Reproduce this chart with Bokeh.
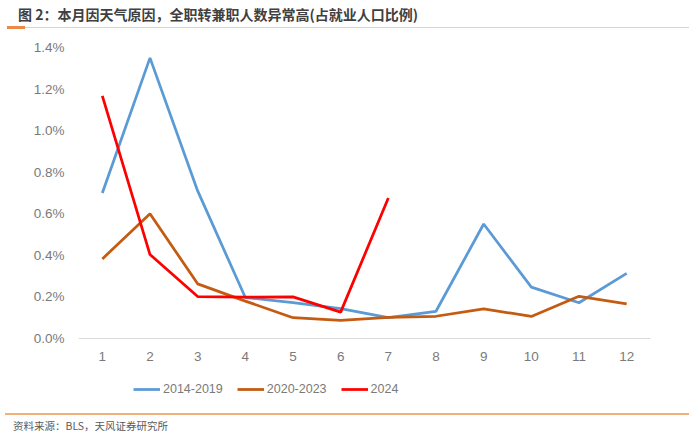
from bokeh.plotting import figure
from bokeh.models import (Legend, LegendItem, FixedTicker, PrintfTickFormatter,
                          Range1d, Div)
from bokeh.layouts import column
from bokeh.embed import file_html
from bokeh.resources import INLINE

months = [1, 2, 3, 4, 5, 6, 7, 8, 9, 10, 11, 12]
s_2014_2019 = [0.70, 1.35, 0.71, 0.197, 0.173, 0.144, 0.10, 0.131, 0.551, 0.247, 0.172, 0.313]
s_2020_2023 = [0.383, 0.60, 0.263, 0.18, 0.10, 0.087, 0.102, 0.107, 0.143, 0.106, 0.203, 0.167]
months_2024 = [1, 2, 3, 4, 5, 6, 7]
s_2024 = [1.167, 0.404, 0.202, 0.199, 0.20, 0.127, 0.676]
y_ticks = [0.0, 0.2, 0.4, 0.6, 0.8, 1.0, 1.2, 1.4]
series_names = ["2014-2019", "2020-2023", "2024"]
title_text = "图 2：本月因天气原因，全职转兼职人数异常高(占就业人口比例)"
source_text = "资料来源：BLS，天风证券研究所"

W = 696
TOP_H = 30
FIG_H = 383
BOT_H = 22

# plot area (0 .. 1.4) spans 291 px; frame extends 67 px below zero for labels/legend
px_per_unit = 291 / 1.4
y_low = -67 / px_per_unit

title_div = Div(width=W, height=TOP_H, margin=0, text=(
    '<div style="position:relative;width:%dpx;height:%dpx;">'
    '<div style="position:absolute;left:18px;top:5px;line-height:18px;white-space:nowrap;'
    'font-family:\'Noto Sans CJK SC\';font-weight:bold;font-size:14px;color:#404040;">%s</div>'
    '<div style="position:absolute;left:7px;top:26.5px;width:682px;height:1.5px;background:#F6CBA6;"></div>'
    '<div style="position:absolute;left:7px;top:26px;width:18px;height:2.5px;background:#EA8A45;"></div>'
    '</div>') % (W, TOP_H, title_text))

p = figure(width=W, height=FIG_H, output_backend="svg", toolbar_location=None,
           x_range=Range1d(0.5, 12.5), y_range=Range1d(y_low, 1.4),
           min_border_left=78, min_border_right=W - 650, min_border_top=17,
           min_border_bottom=8, margin=0)
p.outline_line_color = None
p.xgrid.grid_line_color = None
p.ygrid.grid_line_color = None

tick_font = "Liberation Sans"
p.xaxis.ticker = FixedTicker(ticks=months)
p.yaxis.ticker = FixedTicker(ticks=y_ticks)
p.yaxis.formatter = PrintfTickFormatter(format="%.1f%%")
for ax in (p.xaxis, p.yaxis):
    ax.major_tick_line_color = None
    ax.minor_tick_line_color = None
    ax.major_label_text_font = tick_font
    ax.major_label_text_font_size = "13.5px"
    ax.major_label_text_color = "#7A7A7A"
p.yaxis.axis_line_color = None
p.yaxis.major_label_standoff = 8
p.xaxis.fixed_location = 0
p.xaxis.axis_line_color = "#D9D9D9"
p.xaxis.axis_line_width = 1
p.xaxis.major_label_standoff = 7

r1 = p.line(months, s_2014_2019, line_color="#5B9BD5", line_width=2.75)
r2 = p.line(months, s_2020_2023, line_color="#C55A11", line_width=2.75)
r3 = p.line(months_2024, s_2024, line_color="#FF0000", line_width=2.75)

legend = Legend(items=[LegendItem(label=series_names[0], renderers=[r1]),
                       LegendItem(label=series_names[1], renderers=[r2]),
                       LegendItem(label=series_names[2], renderers=[r3])],
                orientation="horizontal", location=(55, 6),
                glyph_width=27, glyph_height=20, label_standoff=3, spacing=14,
                padding=0, margin=0, border_line_color=None, background_fill_alpha=0,
                label_text_font=tick_font, label_text_font_size="12.5px",
                label_text_color="#7A7A7A")
p.add_layout(legend, "center")

src_div = Div(width=W, height=BOT_H, margin=0, text=(
    '<div style="position:relative;width:%dpx;height:%dpx;">'
    '<div style="position:absolute;left:5px;top:0px;width:684px;height:1.5px;background:#F0B27A;"></div>'
    '<div style="position:absolute;left:13px;top:6px;line-height:14px;white-space:nowrap;'
    'font-family:\'Noto Sans CJK SC\';font-size:10.5px;color:#595959;">%s</div>'
    '</div>') % (W, BOT_H, source_text))

layout = column(title_div, p, src_div, spacing=0)
open("out.html", "w").write(file_html(layout, INLINE))
